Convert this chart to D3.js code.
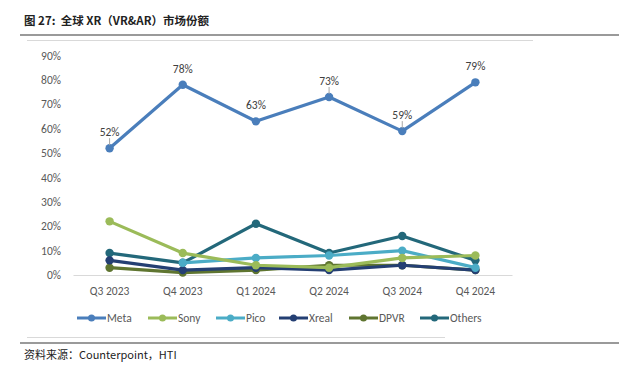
<!DOCTYPE html>
<html>
<head>
<meta charset="utf-8">
<script src="https://cdn.jsdelivr.net/npm/d3@7"></script>
<style>
  body { margin: 0; background: #fff; }
  svg { display: block; font-family: Calibri, "Liberation Sans", "Open Sans", sans-serif; }
</style>
</head>
<body>
<svg id="chart" width="619" height="375"></svg>
<script>
// quarters on the x axis
const quarters = ["Q3 2023", "Q4 2023", "Q1 2024", "Q2 2024", "Q3 2024", "Q4 2024"];
const yTicks = [0, 10, 20, 30, 40, 50, 60, 70, 80, 90];

// market share, %
const meta   = [52, 78, 63, 73, 59, 79];
const sony   = [22, 9, 4, 3, 7, 8];
const pico   = [null, 5, 7, 8, 10, 3];
const xreal  = [6, 2, 3, 2, 4, 2];
const dpvr   = [3, 1, 2, 4, 4, 2];
const others = [9, 5, 21, 9, 16, 6];

// Meta labels that get a little leader tick
const leaderAt = ["Q3 2023", "Q2 2024", "Q3 2024"];

const series = [
    {name: "Meta",   values: meta,   color: "#4a7ebb", labels: true},
    {name: "Sony",   values: sony,   color: "#9bbb59"},
    {name: "Pico",   values: pico,   color: "#4bacc6"},
    {name: "Xreal",  values: xreal,  color: "#243f73"},
    {name: "DPVR",   values: dpvr,   color: "#5f7530"},
    {name: "Others", values: others, color: "#23687a"}
];

const svg = d3.select("#chart");
const cjk = '"Noto Sans CJK SC", sans-serif';
const latin = 'Calibri, "Liberation Sans", sans-serif';

// title + rules
svg.append("text").attr("x", 24).attr("y", 25)
    .style("font-family", cjk).style("font-weight", "bold").style("font-size", "11.5px")
    .style("white-space", "pre")
    .attr("fill", "#222").text("图 27:  全球 XR（VR&AR）市场份额");
svg.append("line").attr("x1", 20).attr("x2", 619).attr("y1", 35).attr("y2", 35)
    .attr("stroke", "#9a9a9a").attr("stroke-width", 2);
svg.append("line").attr("x1", 27).attr("x2", 533).attr("y1", 40.5).attr("y2", 40.5)
    .attr("stroke", "#d9d9d9").attr("stroke-width", 1);
svg.append("line").attr("x1", 27).attr("x2", 445).attr("y1", 337.5).attr("y2", 337.5)
    .attr("stroke", "#d9d9d9").attr("stroke-width", 1);
svg.append("line").attr("x1", 20).attr("x2", 619).attr("y1", 343).attr("y2", 343)
    .attr("stroke", "#9a9a9a").attr("stroke-width", 2);
svg.append("text").attr("x", 24).attr("y", 359)
    .style("font-family", cjk).style("font-size", "11px")
    .attr("fill", "#222").text("资料来源：Counterpoint，HTI");

const x = d3.scaleBand().domain(quarters).range([73, 512]);
const y = d3.scaleLinear().domain([0, 90]).range([275, 55.5]);
const cx = q => x(q) + x.bandwidth() / 2;

// y axis labels (no axis line)
const yAxis = svg.append("g").attr("transform", "translate(61,0)")
    .call(d3.axisLeft(y).tickValues(yTicks).tickFormat(d => d + "%").tickSize(0).tickPadding(0));
yAxis.select(".domain").remove();
yAxis.selectAll("text").attr("fill", "#595959").style("font-size", "11.5px")
    .style("font-family", latin);

// x axis
const xAxis = svg.append("g").attr("transform", "translate(0,275)")
    .call(d3.axisBottom(x).tickSize(0).tickPadding(12));
xAxis.select(".domain").attr("stroke", "#d9d9d9").attr("stroke-width", 1.2);
xAxis.selectAll("text").attr("fill", "#595959").style("font-size", "11.5px")
    .style("font-family", latin);

const line = d3.line()
    .defined(d => d.v !== null)
    .x(d => cx(d.q)).y(d => y(d.v));

// draw from the back: Others first, Meta on top
series.slice().reverse().forEach(s => {
    const pts = quarters.map((q, i) => ({q, v: s.values[i]}));
    const g = svg.append("g");
    g.append("path").datum(pts).attr("d", line)
        .attr("fill", "none").attr("stroke", s.color).attr("stroke-width", 3.2)
        .attr("stroke-linejoin", "round");
    g.selectAll("circle").data(pts.filter(d => d.v !== null)).enter().append("circle")
        .attr("cx", d => cx(d.q)).attr("cy", d => y(d.v)).attr("r", 4.2)
        .attr("fill", s.color);
    if (s.labels) {
        g.selectAll("line.lead").data(pts.filter(d => leaderAt.includes(d.q))).enter().append("line")
            .attr("class", "lead")
            .attr("x1", d => cx(d.q)).attr("x2", d => cx(d.q))
            .attr("y1", d => y(d.v) - 10).attr("y2", d => y(d.v) - 3)
            .attr("stroke", "#a6a6a6").attr("stroke-width", 1);
        g.selectAll("text.lbl").data(pts).enter().append("text")
            .attr("class", "lbl")
            .attr("x", d => cx(d.q)).attr("y", d => y(d.v) - 12)
            .attr("text-anchor", "middle").attr("fill", "#404040")
            .style("font-size", "11.5px")
            .style("font-family", latin)
            .text(d => d.v + "%");
    }
});

// legend
const legendX = [77, 148, 216, 279, 349, 420];
const lg = svg.append("g").selectAll("g").data(series).enter().append("g")
    .attr("transform", (d, i) => `translate(${legendX[i]},318)`);
lg.append("line").attr("x1", 0).attr("x2", 29).attr("stroke", d => d.color).attr("stroke-width", 3);
lg.append("circle").attr("cx", 14.5).attr("r", 3.5).attr("fill", d => d.color);
lg.append("text").attr("x", 30).attr("dy", "0.35em").attr("fill", "#595959")
    .style("font-size", "11.5px")
    .style("font-family", latin)
    .text(d => d.name);
</script>
</body>
</html>
